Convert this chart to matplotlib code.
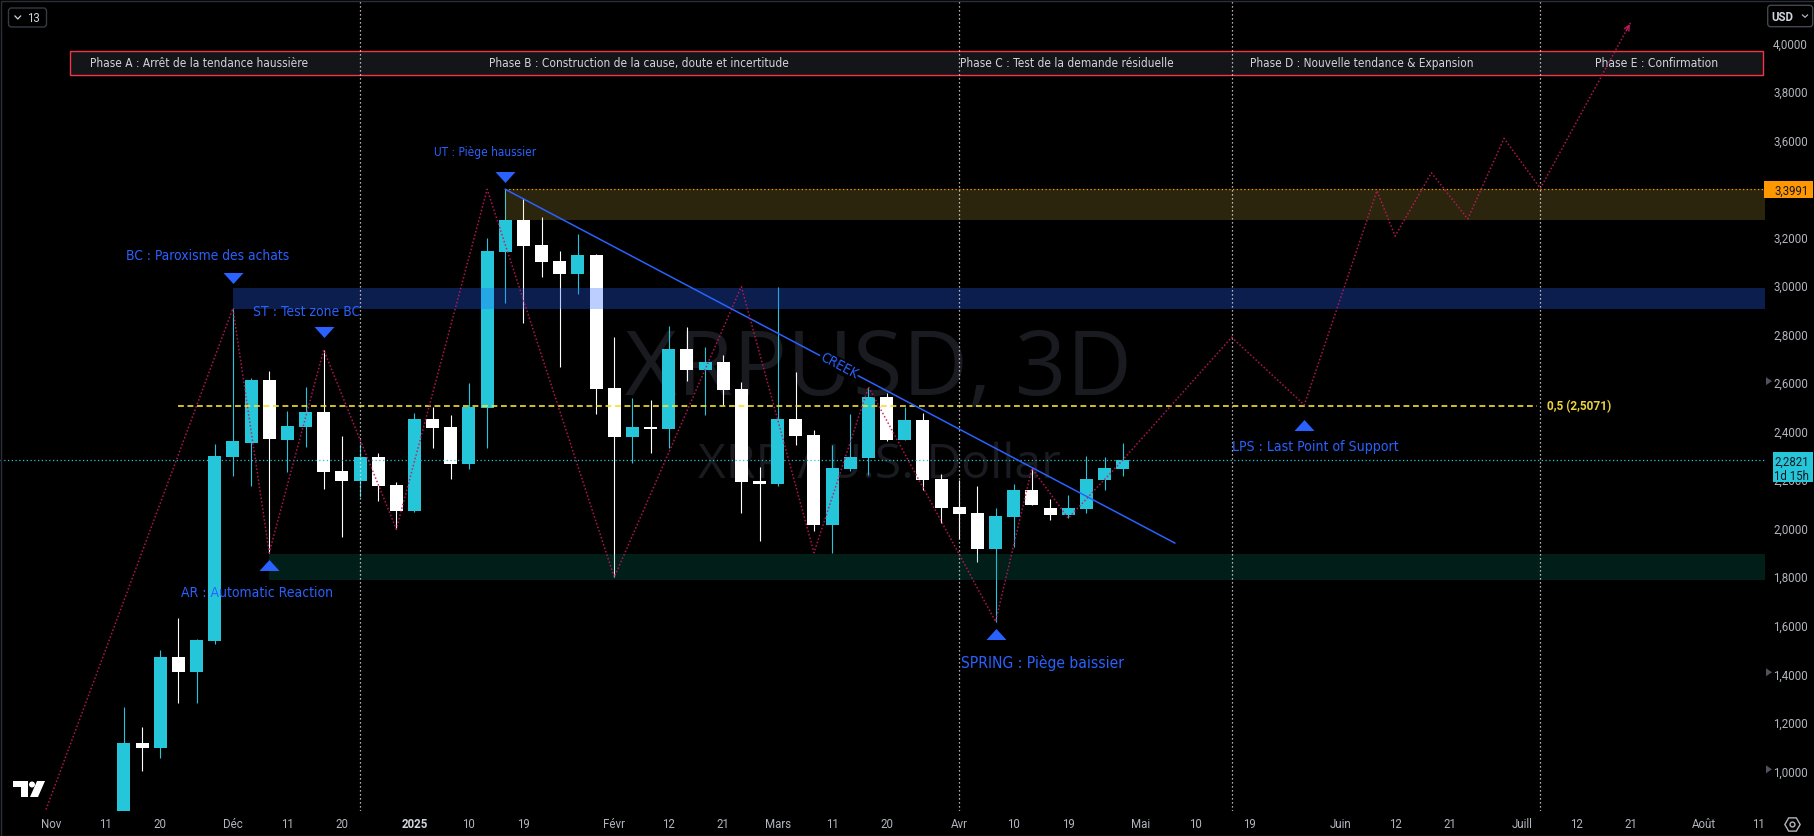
import matplotlib
matplotlib.use('Agg')
import matplotlib.pyplot as plt
import matplotlib.transforms as mtransforms
from matplotlib import font_manager as fm
from matplotlib.patches import Rectangle, FancyBboxPatch, Polygon, Circle
from matplotlib.lines import Line2D
import numpy as np

# ---------------- data ----------------
candle_idx = list(range(4, 60))
opens = [0.72, 1.117, 1.097, 1.471, 1.411, 1.538, 2.296, 2.354, 2.613, 2.366,
         2.419, 2.481, 2.238, 2.198, 2.296, 2.180, 2.074, 2.452, 2.419, 2.268,
         2.499, 3.142, 3.272, 3.169, 3.103, 3.051, 3.128, 2.580, 2.379, 2.419,
         2.412, 2.741, 2.654, 2.687, 2.576, 2.197, 2.186, 2.452, 2.386, 2.015,
         2.247, 2.293, 2.544, 2.366, 2.448, 2.205, 2.089, 2.065, 1.918, 2.050,
         2.160, 2.084, 2.058, 2.081, 2.201, 2.247]
highs = [1.265, 1.183, 1.500, 1.632, 1.545, 2.348, 2.908, 2.620, 2.650, 2.487,
         2.584, 2.737, 2.382, 2.348, 2.311, 2.191, 2.476, 2.503, 2.469, 2.602,
         3.200, 3.399, 3.362, 3.286, 3.145, 3.215, 3.132, 2.789, 2.539, 2.531,
         2.836, 2.831, 2.749, 2.716, 2.605, 2.256, 2.996, 2.647, 2.407, 2.345,
         2.472, 2.585, 2.558, 2.503, 2.476, 2.225, 2.200, 2.176, 2.084, 2.184,
         2.249, 2.122, 2.139, 2.301, 2.296, 2.353]
lows = [0.68, 1.003, 1.056, 1.283, 1.283, 1.524, 2.217, 2.176, 1.901, 2.235,
        2.338, 2.162, 1.965, 2.132, 2.116, 1.998, 2.070, 2.331, 2.204, 2.247,
        2.334, 2.932, 2.847, 3.039, 2.668, 2.967, 2.473, 1.800, 2.270, 2.313,
        2.334, 2.610, 2.469, 2.510, 2.066, 1.951, 2.174, 2.346, 1.992, 1.901,
        2.239, 2.221, 2.360, 2.366, 2.160, 2.025, 1.959, 1.864, 1.617, 1.923,
        2.096, 2.037, 2.043, 2.066, 2.160, 2.217]
closes = [1.117, 1.097, 1.471, 1.411, 1.541, 2.300, 2.361, 2.613, 2.368, 2.423,
          2.481, 2.235, 2.198, 2.296, 2.177, 2.074, 2.452, 2.416, 2.268, 2.502,
          3.145, 3.272, 3.165, 3.101, 3.051, 3.128, 2.577, 2.379, 2.419, 2.410,
          2.741, 2.654, 2.687, 2.572, 2.194, 2.186, 2.452, 2.383, 2.015, 2.249,
          2.294, 2.544, 2.366, 2.448, 2.201, 2.085, 2.062, 1.918, 2.052, 2.160,
          2.096, 2.058, 2.084, 2.205, 2.250, 2.282]

# wyckoff zigzag (index, price) incl. projection
zz_idx = [-1, 10, 12, 15, 19, 24, 31, 38, 42, 45, 52, 54, 56, 59, 65, 69, 73, 74, 76, 78, 80, 82, 87]
zz_price = [0.70, 2.908, 1.901, 2.737, 1.998, 3.399, 1.800, 2.998, 1.901, 2.585, 1.617, 2.249,
            2.043, 2.283, 2.789, 2.510, 3.393, 3.206, 3.467, 3.277, 3.609, 3.403, 4.090]

creek_idx = [25, 61.87]
creek_price = [3.399, 1.941]

fib_level = 2.5071
last_price = 2.2821
ut_level = 3.3991
zone_gold = (3.272, 3.3991)
zone_blue = (2.906, 2.991)
zone_green = (1.789, 1.896)
vline_idx = [17, 50, 65, 82]

price_ticks = [4.0, 3.8, 3.6, 3.2, 3.0, 2.8, 2.6, 2.4, 2.2, 2.0, 1.8, 1.6, 1.4, 1.2, 1.0]
time_tick_idx = [0, 3, 6, 10, 13, 16, 20, 23, 26, 31, 34, 37, 40, 43, 46, 50, 53, 56,
                 60, 63, 66, 71, 74, 77, 81, 84, 87, 91, 94]
time_tick_lbl = ['Nov', '11', '20', 'Déc', '11', '20', '2025', '10', '19', 'Févr', '12', '21',
                 'Mars', '11', '20', 'Avr', '10', '19', 'Mai', '10', '19', 'Juin', '12', '21',
                 'Juill', '12', '21', 'Août', '11']

phase_texts = ['Phase A : Arrêt de la tendance haussière',
               'Phase B : Construction de la cause, doute et incertitude',
               'Phase C : Test de la demande résiduelle',
               'Phase D : Nouvelle tendance & Expansion',
               'Phase E : Confirmation']
phase_left_px = [90, 489, 960, 1250, 1595]
phase_width_px = [218, 302, 215, 222, 123]

# annotations: text, center idx, baseline price, target width px
annotations = [
    ('UT : Piège haussier', 23.9, 3.536, 102),
    ('BC : Paroxisme des achats', 8.61, 3.108, 163),
    ('ST : Test zone BC', 14.04, 2.877, 107),
    ('AR : Automatic Reaction', 11.30, 1.720, 152),
    ('SPRING : Piège baissier', 54.58, 1.426, 163),
    ('LPS : Last Point of Support', 69.59, 2.320, 167),
]
tri_down = [(25, 3.448), (10, 3.032), (15, 2.810)]
tri_up = [(12, 1.852), (52, 1.564), (69, 2.429)]

# ---------------- fonts ----------------
def pick_narrow():
    prefs = ['notosans-condensed.', 'notosans-condensedregular', 'notosans-semicondensed.',
             'notosans-semicondensedregular', 'liberationsansnarrow-regular',
             'dejavusanscondensed.', 'robotocondensed-regular', 'opensans-condensed',
             'opensans_condensed']
    files = [f.fname for f in fm.fontManager.ttflist]
    for pref in prefs:
        for f in files:
            base = f.split('/')[-1].lower()
            if base.startswith(pref) or base.replace(' ', '').startswith(pref):
                return fm.FontProperties(fname=f), 1.0
    return fm.FontProperties(family=['Lato', 'DejaVu Sans']), 1.1

LBL_FP, LBL_BOOST = pick_narrow()

# ---------------- figure ----------------
W, H = 1815, 836
fig = plt.figure(figsize=(W / 100, H / 100), dpi=100, facecolor='black')
AX_R, AX_B = 1765, 811
ax = fig.add_axes([0, 1 - AX_B / H, AX_R / W, AX_B / H])
ax.set_facecolor('black')
XMIN, XMAX = -2.825, 94.37
YMIN, YMAX = 0.8364, 4.1793
ax.set_xlim(XMIN, XMAX)
ax.set_ylim(YMIN, YMAX)
ax.axis('off')
renderer = fig.canvas.get_renderer()
ID = mtransforms.IdentityTransform()

def pd(x, y):
    """figure px (top-down) -> data"""
    return ax.transData.inverted().transform((x, H - y))

BLUE = '#2962ff'
CYAN = '#26c6da'
TXT = '#b2b5be'

def fit_text(t, target_w, boost=1.0):
    w = t.get_window_extent(renderer).width
    t.set_fontsize(t.get_fontsize() * target_w / w * boost)
    return t

# watermark
wm1 = ax.text(878.5 / W, 1 - 395 / H, 'XRPUSD, 3D', transform=fig.transFigure, ha='center',
              va='baseline', fontsize=70, color='#1a1b20', family='Open Sans', zorder=0.5)
fit_text(wm1, 507)
wm2 = ax.text(879.5 / W, 1 - 478.3 / H, 'XRP / U.S. Dollar', transform=fig.transFigure,
              ha='center', va='baseline', fontsize=30, color='#1a1b20', family='Open Sans',
              zorder=0.5)
fit_text(wm2, 363)

# phase bar
p0 = pd(69.5, 75.3)
p1 = pd(1763, 50.7)
ax.add_patch(Rectangle((p0[0], p0[1]), p1[0] - p0[0], p1[1] - p0[1], facecolor='#141518',
                       edgecolor='#f23645', lw=1.0, zorder=1))
for s, xl, tw in zip(phase_texts, phase_left_px, phase_width_px):
    t = ax.text(xl / W, 1 - 66.8 / H, s, transform=fig.transFigure, ha='left', va='baseline',
                fontproperties=LBL_FP, fontsize=9, color='#d1d4dc', zorder=1.5)
    fit_text(t, tw, LBL_BOOST)

# candles
bw = 0.716
for i, o, h, l, c in zip(candle_idx, opens, highs, lows, closes):
    col = CYAN if c > o else '#ffffff'
    ax.plot([i, i], [l, h], color=col, lw=0.8, zorder=3, solid_capstyle='butt')
    bot = min(o, c)
    hgt = max(abs(c - o), 0.008)
    ax.add_patch(Rectangle((i - bw / 2, bot), bw, hgt, facecolor=col, edgecolor='none', zorder=3))

# zones (over candles, translucent)
ax.add_patch(Rectangle((25, zone_gold[0]), XMAX - 25, zone_gold[1] - zone_gold[0],
                       facecolor=(0.92, 0.78, 0.29), alpha=0.19, edgecolor='none', zorder=4))
ax.add_patch(Rectangle((10, zone_blue[0]), XMAX - 10, zone_blue[1] - zone_blue[0],
                       facecolor=BLUE, alpha=0.31, edgecolor='none', zorder=4))
ax.add_patch(Rectangle((12, zone_green[0]), XMAX - 12, zone_green[1] - zone_green[0],
                       facecolor='#089981', alpha=0.2, edgecolor='none', zorder=4))

# horizontal levels
ax.plot([XMIN, XMAX], [last_price, last_price], color=CYAN, lw=0.9, ls=(0, (1, 2)), zorder=4.5)
ax.plot([25, XMAX], [ut_level, ut_level], color='#ff9800', lw=0.9, ls=(0, (1, 2)), zorder=4.5)
ax.plot([7, 81.8], [fib_level, fib_level], color='#f7e02a', lw=1.2, ls=(0, (3.5, 2.2)), zorder=4.5)
fibt = ax.text(1547 / W, 1 - 405 / H, '0,5 (2,5071)', transform=fig.transFigure, ha='left',
               va='center_baseline', fontsize=9, color='#e9d33c', family='Roboto',
               fontweight='bold', zorder=6)
fit_text(fibt, 65)

# vertical dotted lines
for v in vline_idx:
    ax.plot([v, v], [YMIN, YMAX], color='#e8e8e8', lw=0.9, ls=(0, (1, 2.2)), zorder=4.6)

# creek
ax.plot(creek_idx, creek_price, color=BLUE, lw=1.1, zorder=5)
ci = 43.37
cp = creek_price[0] + (ci - creek_idx[0]) * (creek_price[1] - creek_price[0]) / (creek_idx[1] - creek_idx[0])
ct = ax.text(ci, cp, 'CREEK', color=BLUE, fontproperties=LBL_FP, fontsize=10, rotation=0,
             ha='center', va='center', zorder=5.5)
fit_text(ct, 41)
ct.set_rotation(-27.8)
ct.set_rotation_mode('anchor')
ct.set_bbox(dict(facecolor='black', edgecolor='none', pad=0.6))

# zigzag
ax.plot(zz_idx, zz_price, color='#c2185b', lw=1.1, ls=(0, (1, 1.4)), alpha=0.9, zorder=5)
ax.annotate('', xy=(zz_idx[-1], zz_price[-1]), xytext=(zz_idx[-1] - 0.35, zz_price[-1] - 0.048),
            arrowprops=dict(arrowstyle='->', color='#c2185b', lw=1.0, mutation_scale=9), zorder=5)

# triangles
down_m = [(-1, 0.55), (1, 0.55), (0, -0.55), (-1, 0.55)]
up_m = [(-1, -0.55), (1, -0.55), (0, 0.55), (-1, -0.55)]
for x, y in tri_down:
    ax.plot([x], [y], marker=down_m, markersize=14.4, color=BLUE, mec='none', zorder=6)
for x, y in tri_up:
    ax.plot([x], [y], marker=up_m, markersize=14.4, color=BLUE, mec='none', zorder=6)

for s, x, y, tw in annotations:
    t = ax.text(x, y, s, ha='center', va='baseline', fontproperties=LBL_FP, fontsize=9,
                color=BLUE, zorder=6)
    fit_text(t, tw, LBL_BOOST)

# ---------------- price axis ----------------
ylab_tr = mtransforms.blended_transform_factory(fig.transFigure, ax.transData)
for p in price_ticks:
    fig.text(1808 / W, p, f'{p:.4f}'.replace('.', ','), transform=ylab_tr, ha='right',
             va='center_baseline', fontsize=8.3, color=TXT, family='Roboto', zorder=2)
for p in [2.6, 1.4, 1.0]:
    yy = ax.transData.transform((0, p))[1] + 2
    fig.add_artist(Polygon([(1766, yy + 4), (1766, yy - 4), (1772, yy)], closed=True,
                           transform=ID, facecolor='#50535e', edgecolor='none', zorder=2))

def label_box(p, x0, x1, h, lines, fc):
    yc = ax.transData.transform((0, p))[1]
    top = yc + 8.5
    fig.add_artist(Rectangle((x0, top - h), x1 - x0, h, transform=ID, facecolor=fc,
                             edgecolor='none', zorder=3))
    for k, s in enumerate(lines):
        fig.text((x1 - 4) / W, (top - 8.5 - 14.5 * k) / H, s, ha='right', va='center_baseline',
                 fontsize=8.3, color='#131722', family='Roboto', zorder=4)

label_box(ut_level, 1764, 1812.7, 17.2, ['3,3991'], '#ff9800')
label_box(last_price, 1773.3, 1812.7, 30.3, ['2,2821', '1d 15h'], CYAN)

# ---------------- time axis ----------------
xlab_tr = mtransforms.blended_transform_factory(ax.transData, fig.transFigure)
for i, s in zip(time_tick_idx, time_tick_lbl):
    fig.text(i, 1 - 828 / H, s, transform=xlab_tr, ha='center', va='baseline', fontsize=8.3,
             color='#d1d4dc' if s == '2025' else TXT, family='Roboto',
             fontweight='bold' if s == '2025' else 'normal')

# settings icon
fig.add_artist(Line2D([1792], [H - 824], transform=ID, marker='H', markersize=11,
                      mfc='none', mec=TXT, mew=1.0))
fig.add_artist(Line2D([1792], [H - 824], transform=ID, marker='o', markersize=3.5,
                      mfc='none', mec=TXT, mew=1.0))

# top-left "13" box
fig.add_artist(FancyBboxPatch((8.5, H - 27), 38, 19, boxstyle='round,pad=0,rounding_size=3',
                              transform=ID, facecolor='black', edgecolor='#363a45', lw=1))
fig.add_artist(Line2D([15, 17.8, 20.6], [H - 16, H - 19, H - 16], transform=ID, color='#d1d4dc', lw=0.9))
fig.text(33 / W, 1 - 17.5 / H, '13', ha='center', va='center_baseline', fontsize=8.3,
         color='#d1d4dc', family='Roboto')

# USD box
fig.add_artist(FancyBboxPatch((1767.7, H - 26.7), 45, 21.4, boxstyle='round,pad=0,rounding_size=3',
                              transform=ID, facecolor='black', edgecolor='#434651', lw=1))
fig.text(1782 / W, 1 - 16 / H, 'USD', ha='center', va='center_baseline', fontsize=8.3,
         color='#d1d4dc', family='Roboto', fontweight='bold')
fig.add_artist(Line2D([1802.5, 1805, 1807.5], [H - 15, H - 17.3, H - 15], transform=ID,
                      color='#b2b5be', lw=0.9))

# TradingView logo
fig.add_artist(Polygon([(13, H - 781), (28, H - 781), (28, H - 797), (21, H - 797), (21, H - 787), (13, H - 787)],
                       closed=True, transform=ID, facecolor='white', edgecolor='none'))
fig.add_artist(Circle((32, H - 784.5), 3, transform=ID, facecolor='white', edgecolor='none'))
fig.add_artist(Polygon([(37, H - 781), (45, H - 781), (38, H - 797), (30, H - 797)],
                       closed=True, transform=ID, facecolor='white', edgecolor='none'))

# border
fig.add_artist(Rectangle((0.5, 0.5), W - 1, H - 1, transform=ID, facecolor='none',
                         edgecolor='#2a2e39', lw=1))

fig.savefig('out.png', dpi=100, facecolor='black')
